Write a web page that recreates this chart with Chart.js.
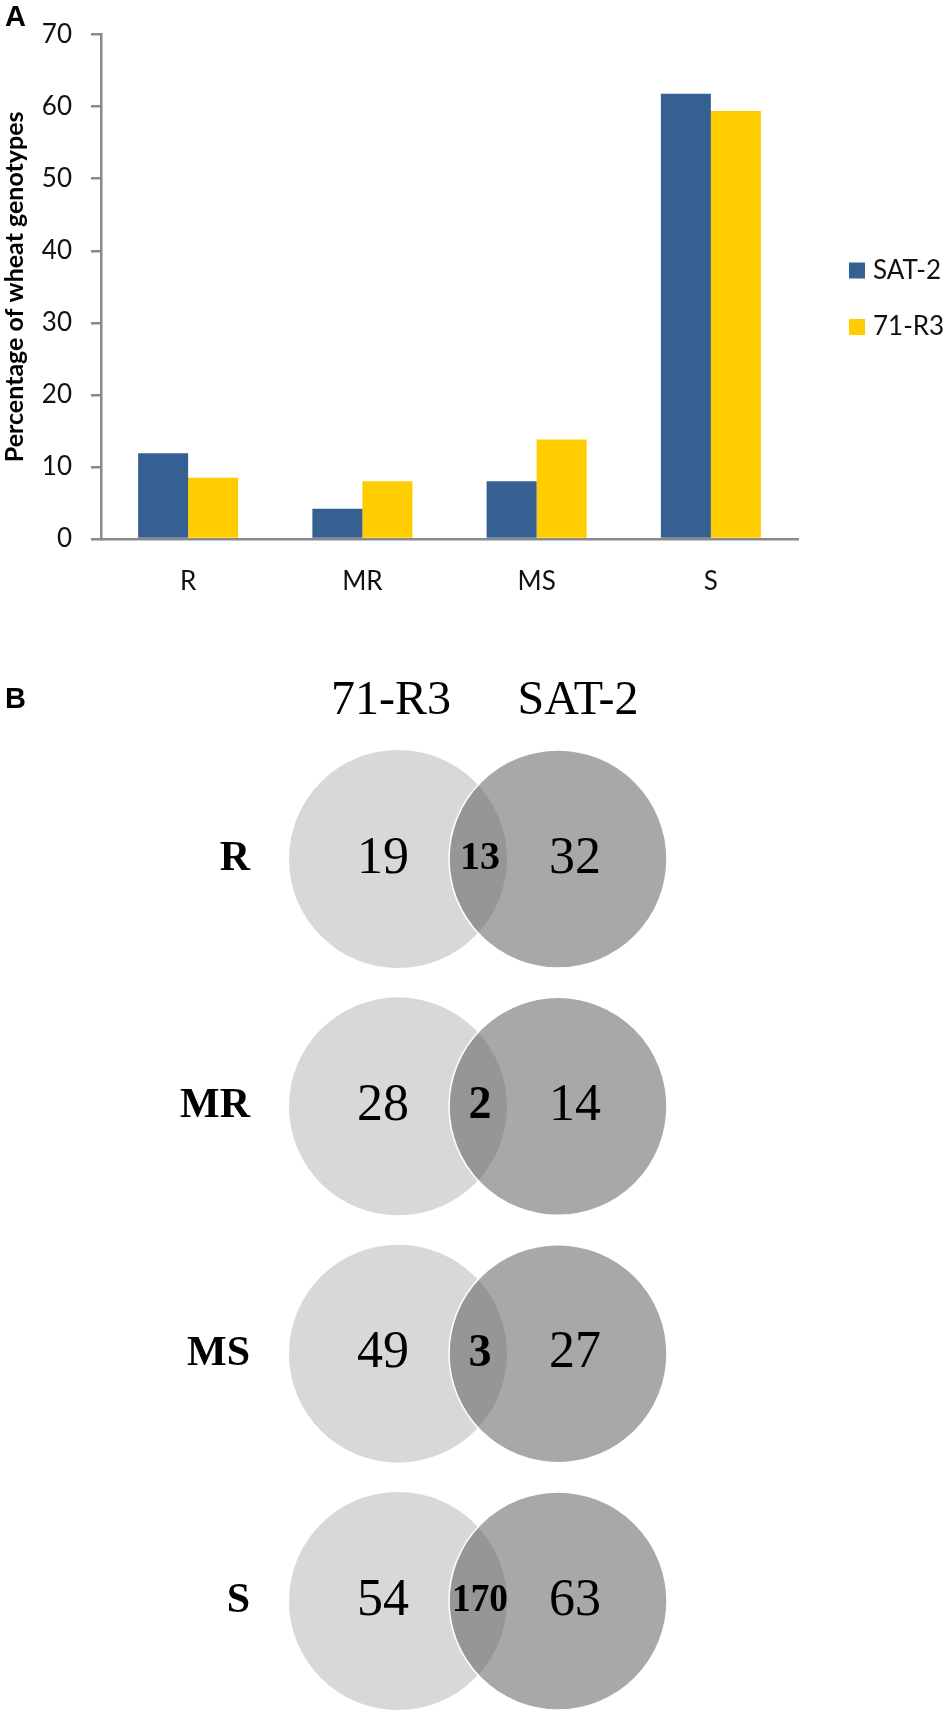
<!DOCTYPE html>
<html>
<head>
<meta charset="utf-8">
<script src="https://cdn.jsdelivr.net/npm/chart.js@4.4.1/dist/chart.umd.min.js"></script>
<style>
  html, body { margin: 0; padding: 0; background: #fff; }
  #wrap { position: relative; width: 950px; height: 1719px; }
  #barChart { position: absolute; left: 0; top: 0; }
  #vennChart { position: absolute; left: 0; top: 600px; }
</style>
</head>
<body>
<div id="wrap">
  <canvas id="barChart" width="950" height="600"></canvas>
  <canvas id="vennChart" width="950" height="1119"></canvas>
</div>
<script>
// panel A: percentage of genotypes in each reaction class
var classes = ['R', 'MR', 'MS', 'S'];
var sat2Pct = [11.9, 4.2, 8.0, 61.8];
var r3Pct = [8.5, 8.0, 13.8, 59.4];
var yTicks = [0, 10, 20, 30, 40, 50, 60, 70];

// panel B: number of genotypes per class (only 71-R3 / both / only SAT-2)
var genotypes = ['71-R3', 'SAT-2'];
var only71R3 = [19, 28, 49, 54];
var shared = [13, 2, 3, 170];
var onlySAT2 = [32, 14, 27, 63];

var axisGrey = '#898989';
var sans = 'Lato';
var serif = '"Liberation Serif", "Times New Roman", serif';

// big bold panel letter in the corner
var panelLetter = {
  id: 'panelLetter',
  afterDraw: function(chart, args, opts) {
    var c = chart.ctx;
    c.save();
    c.font = 'bold 29px "Liberation Sans", Arial, sans-serif';
    c.fillStyle = '#000';
    c.textBaseline = 'alphabetic';
    c.fillText(opts.text, opts.x, opts.y);
    c.restore();
  }
};

// legend to the right of the bars, built from the datasets
var sideLegend = {
  id: 'sideLegend',
  afterDraw: function(chart, args, opts) {
    var c = chart.ctx;
    c.save();
    c.font = '26px ' + sans;
    c.textBaseline = 'middle';
    chart.data.datasets.forEach(function(ds, i) {
      var cy = opts.top + i * opts.gap;
      c.fillStyle = ds.backgroundColor;
      c.fillRect(opts.left, cy - 8, 16, 16);
      c.fillStyle = '#111';
      c.fillText(ds.label, opts.left + 24, cy);
    });
    c.restore();
  }
};

// counts written into the venn circles
var vennCounts = {
  id: 'vennCounts',
  afterDatasetsDraw: function(chart) {
    var c = chart.ctx;
    var left = chart.getDatasetMeta(0).data;
    var right = chart.getDatasetMeta(1).data;
    c.save();
    c.fillStyle = '#000';
    c.textAlign = 'center';
    c.textBaseline = 'middle';
    classes.forEach(function(cls, i) {
      var a = left[i], b = right[i];
      c.font = '52px ' + serif;
      c.fillText(String(only71R3[i]), a.x - 15, a.y);
      c.fillText(String(onlySAT2[i]), b.x + 17, b.y);
      var s = String(shared[i]);
      c.font = 'bold ' + (s.length > 1 ? 40 : 46) + 'px ' + serif;
      c.fillText(s, (a.x + b.x) / 2 + 2, a.y, s.length > 2 ? 56 : undefined);
    });
    c.restore();
  }
};

new Chart(document.getElementById('barChart'), {
  type: 'bar',
  data: {
    labels: classes,
    datasets: [
      { label: 'SAT-2', data: sat2Pct, backgroundColor: '#366092' },
      { label: '71-R3', data: r3Pct, backgroundColor: '#ffcc00' }
    ]
  },
  options: {
    responsive: false,
    animation: false,
    events: [],
    layout: { padding: { left: 0, top: 15, right: 152, bottom: 0 } },
    datasets: { bar: { categoryPercentage: 0.574, barPercentage: 1 } },
    scales: {
      x: {
        grid: { display: false, drawTicks: false },
        border: { color: axisGrey, width: 2.5 },
        ticks: { font: { family: sans, size: 26 }, color: '#111', padding: 27 },
        afterFit: function(s) { s.height = 61; }
      },
      y: {
        min: 0,
        max: 70,
        afterBuildTicks: function(s) { s.ticks = yTicks.map(function(v) { return { value: v }; }); },
        grid: { drawOnChartArea: false, drawTicks: true, tickLength: 10, color: axisGrey, lineWidth: 2.5 },
        border: { color: axisGrey, width: 2.5 },
        ticks: { font: { family: sans, size: 26 }, color: '#111', padding: 19 },
        title: {
          display: true,
          text: 'Percentage of wheat genotypes',
          font: { family: sans, size: 25, weight: 'bold' },
          color: '#000',
          padding: 0
        },
        afterFit: function(s) { s.width = 101; }
      }
    },
    plugins: {
      legend: { display: false },
      tooltip: { enabled: false },
      panelLetter: { text: 'A', x: 5, y: 26 },
      sideLegend: { left: 849, top: 270.5, gap: 56.5 }
    }
  },
  plugins: [panelLetter, sideLegend]
});

new Chart(document.getElementById('vennChart'), {
  type: 'scatter',
  data: {
    datasets: [
      {
        label: genotypes[0],
        data: classes.map(function(c) { return { x: 0, y: c }; }),
        pointRadius: 109,
        backgroundColor: '#d9d8d9',
        borderWidth: 0,
        clip: false,
        order: 2
      },
      {
        // drawn on top, semi-transparent so the overlap turns darker
        label: genotypes[1],
        data: classes.map(function(c) { return { x: 1, y: c }; }),
        pointRadius: 109,
        backgroundColor: 'rgba(94,94,94,0.54)',
        borderColor: '#ffffff',
        borderWidth: 1.5,
        clip: false,
        order: 1
      }
    ]
  },
  options: {
    responsive: false,
    animation: false,
    events: [],
    layout: { padding: { left: 0, top: 0, right: 270, bottom: 118 } },
    scales: {
      x: { type: 'linear', display: false, min: -0.6125, max: 1.7625 },
      xt: {
        type: 'linear',
        axis: 'x',
        position: 'top',
        min: -0.4866,
        max: 1.545,
        afterBuildTicks: function(s) { s.ticks = genotypes.map(function(g, i) { return { value: i }; }); },
        grid: { display: false, drawTicks: false },
        border: { display: false },
        ticks: {
          callback: function(v) { return genotypes[Math.round(v)]; },
          font: { family: serif, size: 48, lineHeight: 1.2 },
          color: '#000',
          padding: 129,
          maxRotation: 0,
          autoSkip: false
        },
        afterFit: function(s) { s.height = 259; }
      },
      y: {
        type: 'category',
        labels: classes,
        offset: false,
        grid: { display: false, drawTicks: false },
        border: { display: false },
        ticks: { font: { family: serif, size: 42, weight: 'bold' }, color: '#000', padding: 50 },
        afterFit: function(s) { s.width = 300; }
      }
    },
    plugins: {
      legend: { display: false },
      tooltip: { enabled: false },
      panelLetter: { text: 'B', x: 5, y: 108 }
    }
  },
  plugins: [panelLetter, vennCounts]
});
</script>
</body>
</html>
